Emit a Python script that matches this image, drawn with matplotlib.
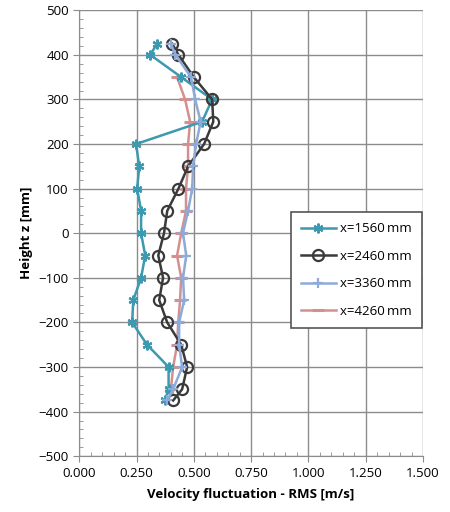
import numpy as np
import matplotlib.pyplot as plt
from matplotlib.ticker import MultipleLocator, FormatStrFormatter

plt.rcParams['font.family'] = ['Open Sans', 'DejaVu Sans']

# heights [mm] and RMS velocity fluctuation [m/s] at each station
z_1560 = [425, 400, 350, 300, 250, 200, 150, 100, 50, 0, -50, -100, -150, -200, -250, -300, -350, -375]
u_1560 = [0.34, 0.31, 0.445, 0.58, 0.536, 0.248, 0.262, 0.253, 0.27, 0.27, 0.288, 0.27, 0.236, 0.231, 0.296, 0.39, 0.39, 0.373]

z_2460 = [425, 400, 350, 300, 250, 200, 150, 100, 50, 0, -50, -100, -150, -200, -250, -300, -350, -375]
u_2460 = [0.406, 0.433, 0.50, 0.58, 0.585, 0.545, 0.475, 0.433, 0.384, 0.37, 0.345, 0.366, 0.349, 0.384, 0.445, 0.471, 0.449, 0.41]

z_3360 = [425, 400, 350, 300, 250, 200, 150, 100, 50, 0, -50, -100, -150, -200, -250, -300, -350, -375]
u_3360 = [0.40, 0.42, 0.488, 0.506, 0.53, 0.51, 0.497, 0.493, 0.475, 0.453, 0.467, 0.453, 0.458, 0.436, 0.436, 0.449, 0.41, 0.384]

z_4260 = [350, 300, 250, 200, 150, 100, 50, 0, -50, -100, -150, -200, -250, -300, -350]
u_4260 = [0.427, 0.462, 0.484, 0.475, 0.475, 0.466, 0.466, 0.445, 0.427, 0.445, 0.44, 0.432, 0.427, 0.41, 0.40]

labels = ['x=1560\u2009mm', 'x=2460\u2009mm', 'x=3360\u2009mm', 'x=4260\u2009mm']

fig = plt.figure(figsize=(4.5, 5.12), dpi=100)
ax = fig.add_axes([0.176, 0.109, 0.764, 0.871])

ax.plot(u_1560, z_1560, color='#3c99b0', lw=1.8, marker=(6, 2, 0), ms=7, mew=1.6, label=labels[0], zorder=3)
ax.plot(u_2460, z_2460, color='#3a3a3a', lw=1.8, marker='o', ms=8, mfc='none', mew=1.6, label=labels[1], zorder=4)
ax.plot(u_3360, z_3360, color='#8eaad8', lw=1.8, marker='+', ms=7, mew=1.6, label=labels[2], zorder=5)
ax.plot(u_4260, z_4260, color='#d68f8f', lw=1.8, marker='_', ms=8, mew=2.2, label=labels[3], zorder=2)

ax.set_xlim(0, 1.5)
ax.set_ylim(-500, 500)
ax.xaxis.set_major_locator(MultipleLocator(0.25))
ax.xaxis.set_minor_locator(MultipleLocator(0.05))
ax.xaxis.set_major_formatter(FormatStrFormatter('%.3f'))
ax.yaxis.set_major_locator(MultipleLocator(100))
ax.yaxis.set_minor_locator(MultipleLocator(20))

ax.grid(True, which='major', color='#8c8c8c', lw=1)
ax.set_axisbelow(True)
for s in ['top', 'right']:
    ax.spines[s].set_visible(False)
for s in ['left', 'bottom']:
    ax.spines[s].set_color('#8c8c8c')
ax.tick_params(which='major', direction='out', length=4, color='#8c8c8c', labelsize=9.5)
ax.tick_params(which='minor', direction='in', length=3, color='#8c8c8c')

ax.set_xlabel('Velocity fluctuation - RMS [m/s]', fontweight='bold', fontsize=9.5, labelpad=6)
ax.set_ylabel('Height z [mm]', fontweight='bold', fontsize=9.5, labelpad=4)

leg = ax.legend(loc='upper left', bbox_to_anchor=(0.596, 0.563), fontsize=9.5,
                frameon=True, fancybox=False, edgecolor='#555555', framealpha=1,
                handlelength=2.6, labelspacing=1.1, borderpad=0.8, handletextpad=0.3)
leg.get_frame().set_linewidth(1.2)

fig.savefig('out.png', dpi=100)
